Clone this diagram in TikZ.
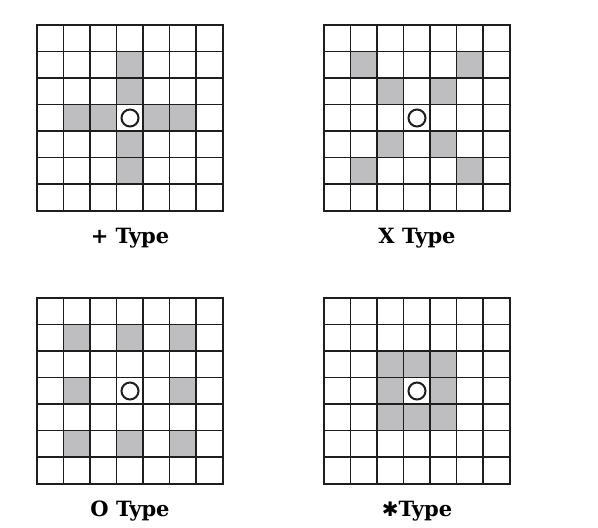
\documentclass[tikz,border=0pt]{standalone}
\usepackage{fontspec}
\setmainfont{DejaVu Serif}
\newfontfamily\symfont{DejaVu Sans}
\usetikzlibrary{positioning,calc}
\definecolor{cellgray}{RGB}{190,190,192}
\definecolor{gridblack}{RGB}{30,30,30}
\newcommand{\cellsize}{26.57}
\newcommand{\typefont}{\fontsize{21pt}{25pt}\selectfont\bfseries}

\begin{document}
\begin{tikzpicture}[x=1pt, y=-1pt,
      node distance=15pt,
      board/.style={rectangle, minimum size=186pt, inner sep=0pt},
      shaded/.style={fill=cellgray},
      gridline/.style={line width=1.6pt, draw=gridblack, line cap=rect},
      centremark/.style={circle, draw=gridblack, fill=white, line width=2pt, minimum size=17pt, inner sep=0pt},
      typelabel/.style={font=\typefont, inner sep=2pt, text height=15pt}
    ]
      \useasboundingbox (0,0) rectangle (598,528);

      \node[board] (plus) at (130,118) {};
      \node[board] (cross) at (417,118) {};
      \node[board] (ring) at (130,391) {};
      \node[board] (star) at (417,391) {};

      % grey cells as column/row, counted from the top left
      \foreach \c/\r in {3/1,3/2,1/3,2/3,4/3,5/3,3/4,3/5}
        \fill[shaded] ($(plus.north west)+(\c*\cellsize,\r*\cellsize)$) rectangle ++(\cellsize,\cellsize);
      \foreach \c/\r in {1/1,5/1,2/2,4/2,2/4,4/4,1/5,5/5}
        \fill[shaded] ($(cross.north west)+(\c*\cellsize,\r*\cellsize)$) rectangle ++(\cellsize,\cellsize);
      \foreach \c/\r in {1/1,3/1,5/1,1/3,5/3,1/5,3/5,5/5}
        \fill[shaded] ($(ring.north west)+(\c*\cellsize,\r*\cellsize)$) rectangle ++(\cellsize,\cellsize);
      \foreach \c/\r in {2/2,3/2,4/2,2/3,4/3,2/4,3/4,4/4}
        \fill[shaded] ($(star.north west)+(\c*\cellsize,\r*\cellsize)$) rectangle ++(\cellsize,\cellsize);

      % 7x7 lines and the centre mark
      \foreach \b in {plus,cross,ring,star} {
        \foreach \i in {0,...,7} {
          \draw[gridline] ($(\b.north west)+(\i*\cellsize,0)$) -- ++(0,186);
          \draw[gridline] ($(\b.north west)+(0,\i*\cellsize)$) -- ++(186,0);
        }
        \node[centremark] (\b-mid) at (\b.center) {};
      }

      \node[typelabel, below=of plus] (plus-label) {+ Type};
      \node[typelabel, below=of cross] (cross-label) {X Type};
      \node[typelabel, below=of ring] (ring-label) {O Type};
      \node[typelabel, below=of star] (star-label) {{\symfont\fontsize{20pt}{24pt}\selectfont ✱}Type};
    \end{tikzpicture}
\end{document}
